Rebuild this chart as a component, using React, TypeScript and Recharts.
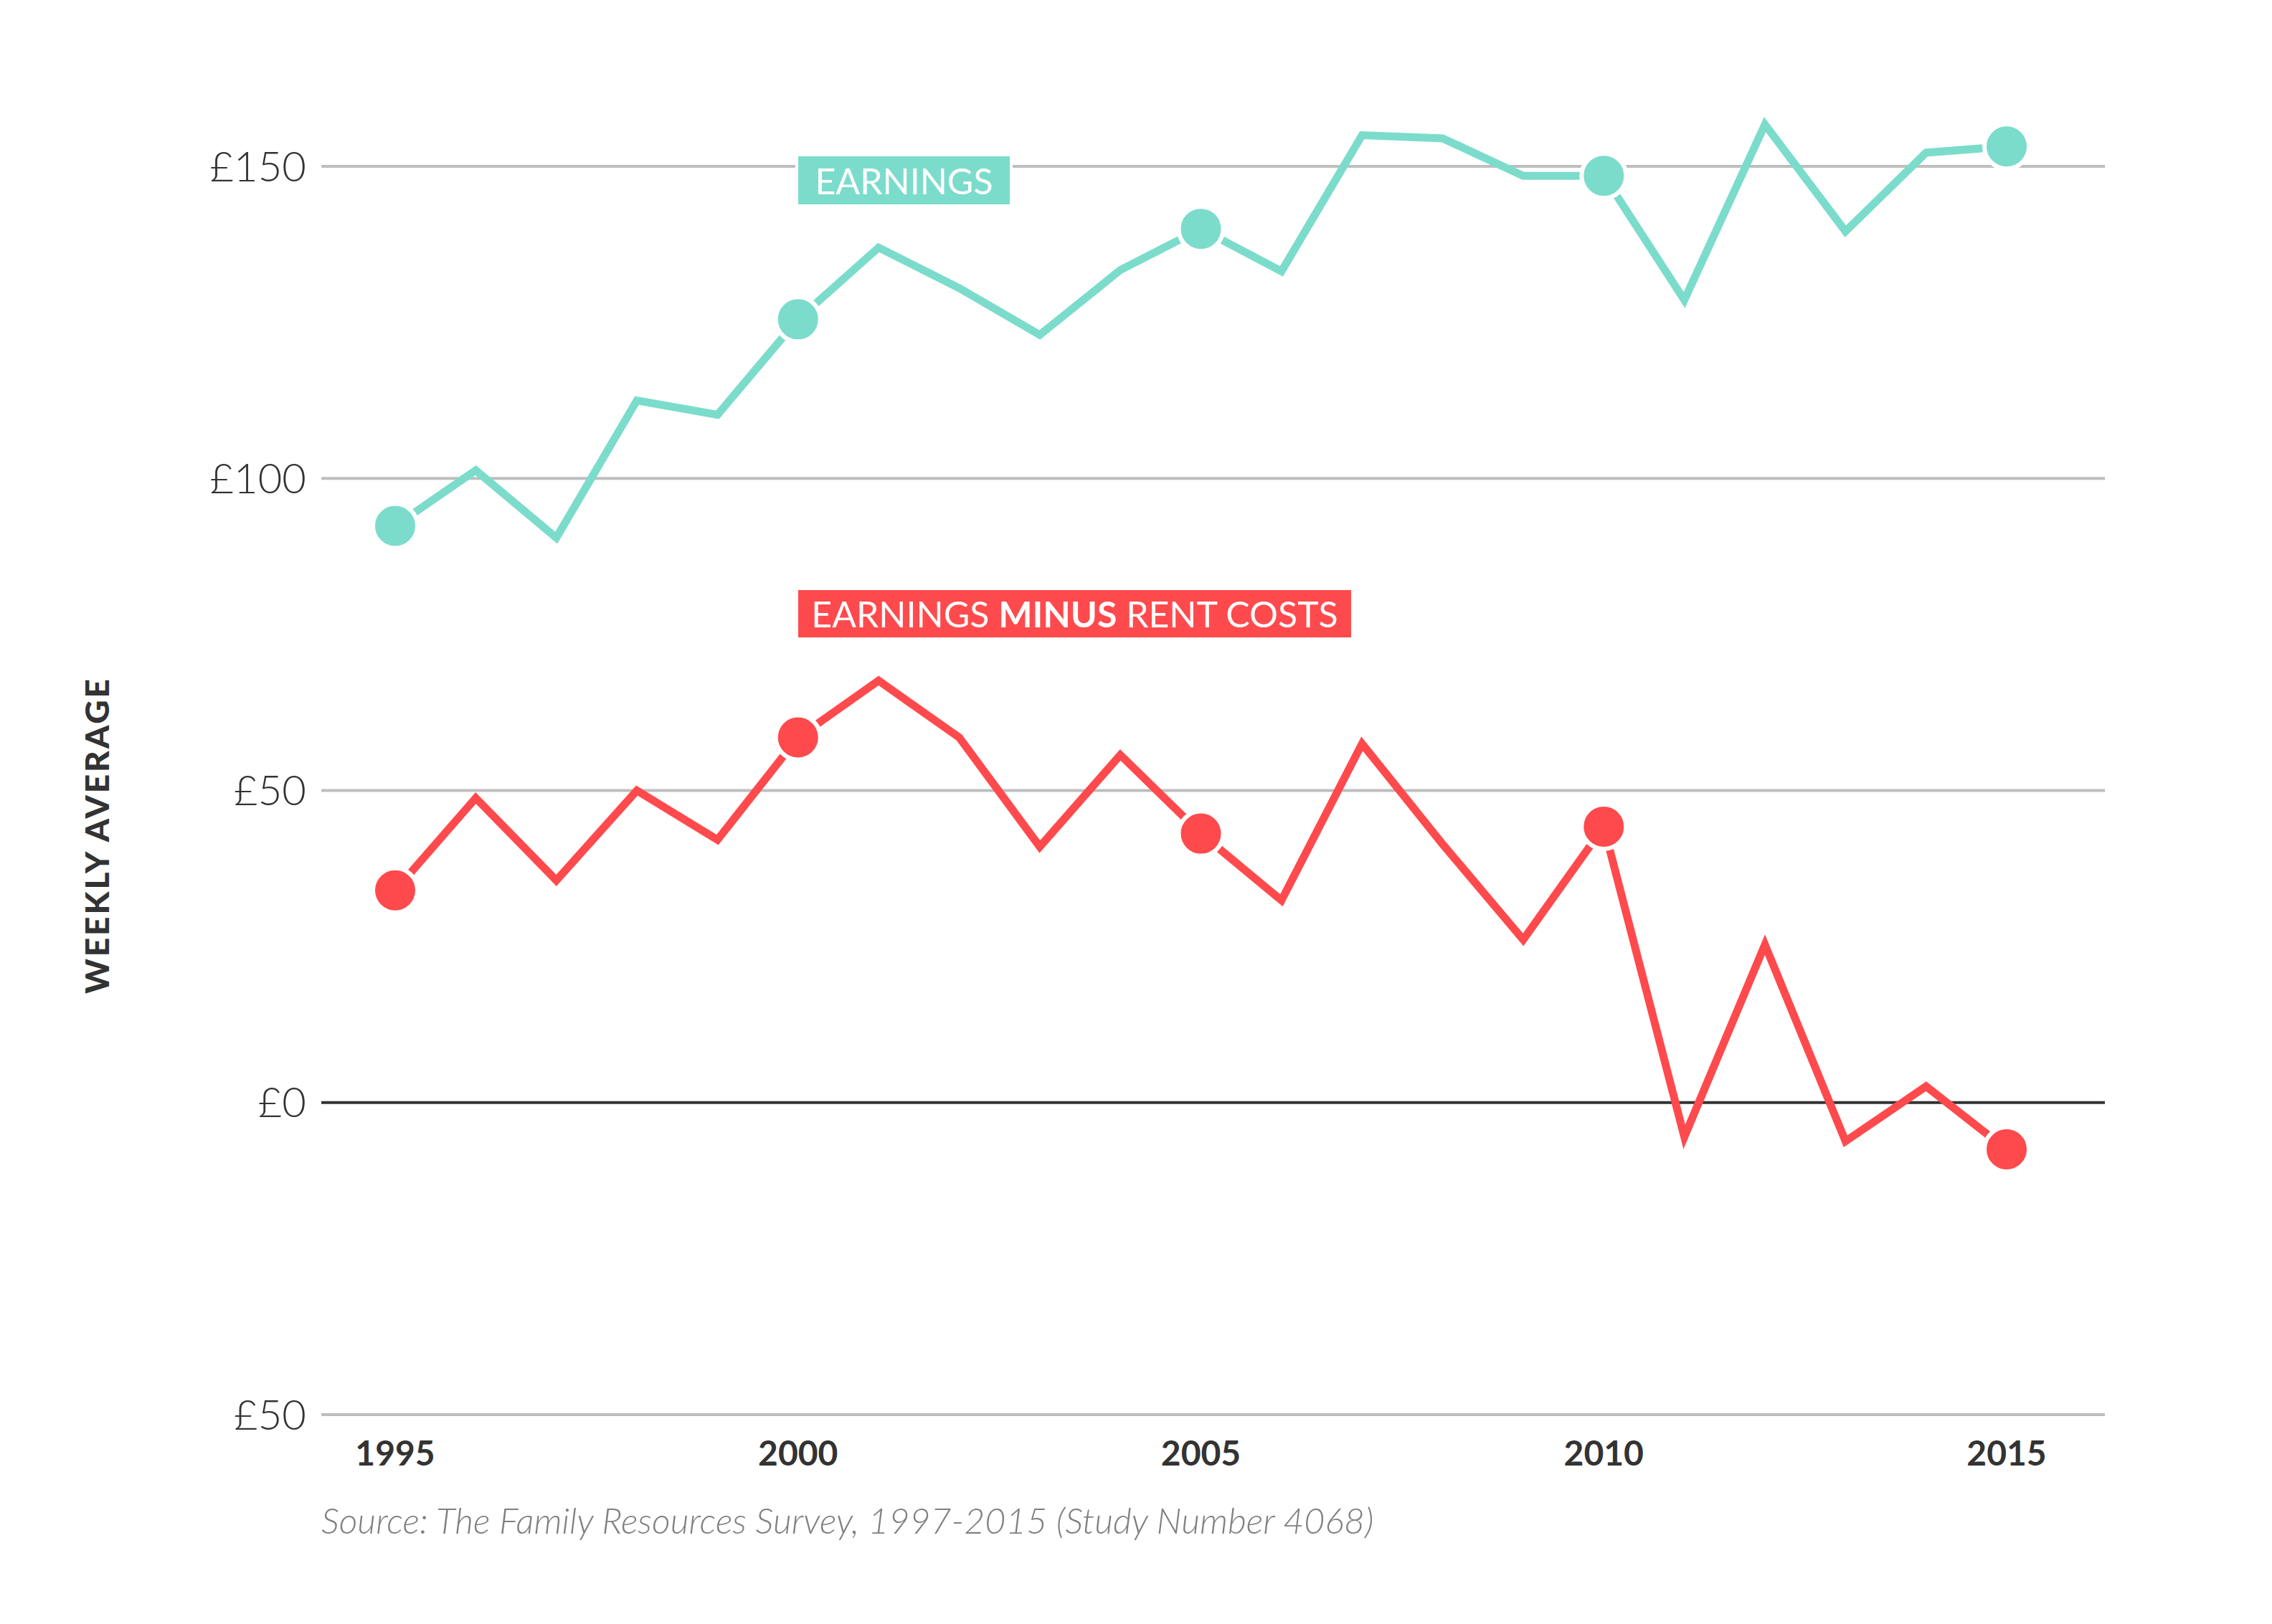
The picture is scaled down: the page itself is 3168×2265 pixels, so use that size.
import React from 'react';
import { LineChart, Line, XAxis, YAxis, ReferenceLine } from 'recharts';

const years = [1995, 1996, 1997, 1998, 1999, 2000, 2001, 2002, 2003, 2004, 2005, 2006, 2007, 2008, 2009, 2010, 2011, 2012, 2013, 2014, 2015];
const earnings = [92.4, 101.3, 90.5, 112.5, 110.2, 125.5, 137.0, 130.5, 123.0, 133.4, 140.0, 133.2, 155.0, 154.5, 148.5, 148.5, 128.6, 156.7, 139.6, 152.2, 153.2];
const earningsMinusRent = [34.0, 48.8, 35.6, 50.0, 42.1, 58.5, 67.6, 58.5, 41.0, 55.7, 43.1, 32.4, 57.5, 41.4, 26.1, 44.2, -5.5, 25.3, -6.2, 2.6, -7.5];
const highlightYears = [1995, 2000, 2005, 2010, 2015];
const xTicks = [1995, 2000, 2005, 2010, 2015];
const yTicks = [-50, 0, 50, 100, 150];
const gridValues = [-50, 50, 100, 150];

const TEAL = '#7cdccb';
const RED = '#ff4a4d';
const DARK = '#333333';
const GRID = '#bebebe';

const data = years.map((year, i) => ({
  year,
  earnings: earnings[i],
  minusRent: earningsMinusRent[i],
}));

const makeDot = (color: string) => (props: any) => {
  const { cx, cy, payload, index } = props;
  if (!highlightYears.includes(payload.year)) {
    return <g key={`nd-${color}-${index}`} />;
  }
  return (
    <circle
      key={`d-${color}-${index}`}
      cx={cx}
      cy={cy}
      r={31}
      fill={color}
      stroke="#ffffff"
      strokeWidth={6}
    />
  );
};

export default function App() {
  return (
    <div style={{ position: 'absolute', left: 0, top: 0, width: 3168, height: 2265, background: '#fff', fontFamily: 'Lato, sans-serif' }}>
      <LineChart
        width={3168}
        height={2265}
        data={data}
        margin={{ top: 58, right: 233, bottom: 232, left: 328 }}
      >
        <XAxis
          dataKey="year"
          type="number"
          domain={[1995, 2015]}
          ticks={xTicks}
          padding={{ left: 103, right: 137 }}
          axisLine={false}
          tickLine={false}
          height={60}
          tickSize={0}
          tickMargin={37}
          tick={{ fill: DARK, fontSize: 48, fontFamily: 'Lato', fontWeight: 700 }}
        />
        <YAxis
          type="number"
          domain={[-50, 170]}
          allowDataOverflow={true}
          ticks={yTicks}
          width={120}
          axisLine={false}
          tickLine={false}
          tickSize={0}
          tickMargin={21}
          tickFormatter={(v: number) => '£' + Math.abs(v)}
          tick={{ fill: DARK, fontSize: 58, fontFamily: 'Lato', fontWeight: 300 }}
        />
        {gridValues.map((v) => (
          <ReferenceLine key={`g-${v}`} y={v} stroke={GRID} strokeWidth={4} />
        ))}
        <ReferenceLine y={0} stroke={DARK} strokeWidth={4} />
        <Line
          type="linear"
          dataKey="earnings"
          stroke={TEAL}
          strokeWidth={11}
          strokeLinejoin="miter"
          dot={makeDot(TEAL)}
          activeDot={false}
          isAnimationActive={false}
        />
        <Line
          type="linear"
          dataKey="minusRent"
          stroke={RED}
          strokeWidth={11}
          strokeLinejoin="miter"
          dot={makeDot(RED)}
          activeDot={false}
          isAnimationActive={false}
        />
      </LineChart>

      <div
        style={{
          position: 'absolute', left: 1109, top: 214, width: 303, height: 75,
          boxSizing: 'border-box', border: '4px solid #fff', background: TEAL,
          color: '#fff', fontFamily: 'Lato', fontWeight: 400, fontSize: 50,
          display: 'flex', alignItems: 'center', justifyContent: 'center', lineHeight: 1,
        }}
      >
        EARNINGS
      </div>

      <div
        style={{
          position: 'absolute', left: 1113, top: 823, width: 771, height: 66,
          boxSizing: 'border-box', background: RED,
          color: '#fff', fontFamily: 'Lato', fontWeight: 400, fontSize: 50,
          display: 'flex', alignItems: 'center', justifyContent: 'center', lineHeight: 1, whiteSpace: 'nowrap',
        }}
      >
        <span>EARNINGS <b style={{ fontWeight: 700 }}>MINUS</b> RENT COSTS</span>
      </div>

      <div
        style={{
          position: 'absolute', left: 135, top: 1165,
          transform: 'translate(-50%, -50%) rotate(-90deg)',
          color: DARK, fontFamily: 'Lato', fontWeight: 900, fontSize: 46, letterSpacing: 3,
          whiteSpace: 'nowrap', lineHeight: 1,
        }}
      >
        WEEKLY AVERAGE
      </div>

      <div
        style={{
          position: 'absolute', left: 448, top: 2095,
          color: '#808080', fontFamily: 'Lato', fontWeight: 300, fontStyle: 'italic', fontSize: 50,
          whiteSpace: 'nowrap', lineHeight: 1,
        }}
      >
        Source: The Family Resources Survey, 1997-2015 (Study Number 4068)
      </div>
    </div>
  );
}
